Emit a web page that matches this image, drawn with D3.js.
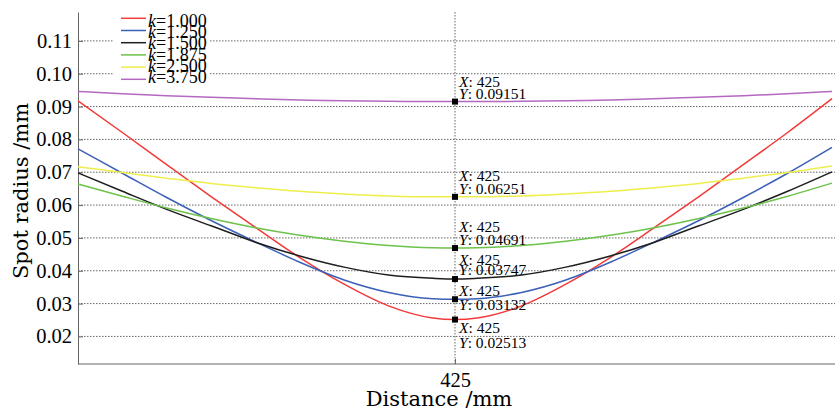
<!DOCTYPE html>
<html>
<head>
<meta charset="utf-8">
<script src="https://cdn.jsdelivr.net/npm/d3@7"></script>
<style>
  body { margin: 0; background: #fff; }
  svg { display: block; }
  .tick text { font-family: "Liberation Serif", serif; font-size: 20.5px; fill: #000; }
  .axis-title { font-family: "DejaVu Serif", serif; font-size: 21px; fill: #000; }
  .legend text { font-family: "Liberation Serif", serif; font-size: 18px; fill: #000; }
  .tip text { font-family: "Liberation Serif", serif; font-size: 15.5px; fill: #000; }
</style>
</head>
<body>
<div id="chart"></div>
<script>
// data
var distance = [0, 50, 100, 150, 200, 250, 300, 350, 400, 425, 450, 500, 550, 600, 650, 700, 750, 800, 850];
var kLabels = ["1.000", "1.250", "1.500", "1.875", "2.500", "3.750"];
var radiusK1000 = [0.0917, 0.0821, 0.0723, 0.0626, 0.0532, 0.0440, 0.0359, 0.0293, 0.0256, 0.02513, 0.0256, 0.0293, 0.0359, 0.0440, 0.0532, 0.0626, 0.0723, 0.0821, 0.0924];
var radiusK1250 = [0.0771, 0.0697, 0.0623, 0.0553, 0.0488, 0.0426, 0.0372, 0.0334, 0.0315, 0.03132, 0.0315, 0.0334, 0.0372, 0.0426, 0.0488, 0.0553, 0.0623, 0.0697, 0.0776];
var radiusK1500 = [0.0698, 0.0642, 0.0587, 0.0537, 0.0487, 0.0445, 0.0411, 0.0387, 0.0377, 0.03747, 0.0377, 0.0387, 0.0411, 0.0445, 0.0487, 0.0537, 0.0587, 0.0642, 0.0701];
var radiusK1875 = [0.0664, 0.0627, 0.0591, 0.0559, 0.0531, 0.0508, 0.0490, 0.0477, 0.0470, 0.04691, 0.0470, 0.0477, 0.0490, 0.0508, 0.0531, 0.0559, 0.0591, 0.0627, 0.0667];
var radiusK2500 = [0.0717, 0.0699, 0.0682, 0.0666, 0.0653, 0.0642, 0.0634, 0.0628, 0.0625, 0.06251, 0.0625, 0.0628, 0.0634, 0.0642, 0.0653, 0.0666, 0.0682, 0.0699, 0.0719];
var radiusK3750 = [0.0946, 0.0939, 0.0933, 0.0928, 0.0924, 0.0920, 0.0918, 0.0916, 0.09152, 0.09151, 0.09152, 0.0916, 0.0918, 0.0920, 0.0924, 0.0928, 0.0933, 0.0939, 0.0946];
var yTicks = [0.02, 0.03, 0.04, 0.05, 0.06, 0.07, 0.08, 0.09, 0.10, 0.11];
var xTicks = [425];
var tipDistance = 425;

var series = [radiusK1000, radiusK1250, radiusK1500, radiusK1875, radiusK2500, radiusK3750];
var colors = ["#f23a3a", "#3c5fb8", "#1e1e1e", "#6cc24a", "#eeee4c", "#b468c2"];
// baseline offsets of the "X" and "Y" lines of each data tip, relative to its marker
var tipOffsets = [[13, 28], [-3, 11], [-14, -4], [-16, -3], [-16, -3], [-15, -2.5]];

var W = 835, H = 411;
var plotLeft = 78, plotTop = 12, plotBottom = 364, plotRight = 835;

var svg = d3.select("#chart").append("svg")
    .attr("width", W)
    .attr("height", H);

var xScale = d3.scaleLinear().domain([0, 850]).range([plotLeft, 832]);
var yScale = d3.scaleLinear().domain([0.0116, 0.1188]).range([plotBottom, plotTop]);

// dotted grid
svg.append("g").selectAll("line")
    .data(yTicks)
    .enter().append("line")
    .attr("x1", plotLeft).attr("x2", plotRight)
    .attr("y1", function(d) { return yScale(d); })
    .attr("y2", function(d) { return yScale(d); })
    .attr("stroke", "#666")
    .attr("stroke-width", 1)
    .attr("stroke-dasharray", "1.5,1.5");

svg.append("g").selectAll("line")
    .data(xTicks)
    .enter().append("line")
    .attr("x1", function(d) { return xScale(d); })
    .attr("x2", function(d) { return xScale(d); })
    .attr("y1", plotTop).attr("y2", plotBottom)
    .attr("stroke", "#666")
    .attr("stroke-width", 1)
    .attr("stroke-dasharray", "1.5,1.5");

// axes
var yAxis = d3.axisLeft(yScale)
    .tickValues(yTicks)
    .tickFormat(d3.format(".2f"))
    .tickSizeInner(-5)
    .tickSizeOuter(0)
    .tickPadding(6);

var yAxis_g = svg.append("g")
    .attr("transform", "translate(" + plotLeft + ",0)")
    .call(yAxis);

var xAxis = d3.axisBottom(xScale)
    .tickValues(xTicks)
    .tickFormat(d3.format("d"))
    .tickSizeInner(-5)
    .tickSizeOuter(0);

var xAxis_g = svg.append("g")
    .attr("transform", "translate(0," + plotBottom + ")")
    .call(xAxis);
xAxis_g.select(".domain").remove();
xAxis_g.selectAll(".tick text").attr("y", 22.5).attr("dy", 0);

svg.append("line")
    .attr("x1", plotLeft).attr("x2", plotRight)
    .attr("y1", plotBottom).attr("y2", plotBottom)
    .attr("stroke", "#666");

svg.selectAll(".domain, .tick line").attr("stroke", "#666");

// curves
var line = d3.line()
    .x(function(d, i) { return xScale(distance[i]); })
    .y(function(d) { return yScale(d); })
    .curve(d3.curveMonotoneX);

svg.append("g").selectAll("path")
    .data(series)
    .enter().append("path")
    .attr("d", line)
    .attr("fill", "none")
    .attr("stroke", function(d, i) { return colors[i]; })
    .attr("stroke-width", 1.5);

// data tips at 425
var tipIndex = distance.indexOf(tipDistance);
var tips = svg.append("g").attr("class", "tip").selectAll("g")
    .data(series)
    .enter().append("g")
    .attr("transform", function(d) {
      return "translate(" + xScale(tipDistance) + "," + yScale(d[tipIndex]) + ")";
    });

tips.append("rect")
    .attr("x", -3).attr("y", -3)
    .attr("width", 6).attr("height", 6)
    .attr("fill", "#000");

var tx = tips.append("text")
    .attr("x", 4)
    .attr("y", function(d, i) { return tipOffsets[i][0]; });
tx.append("tspan").attr("font-style", "italic").text("X");
tx.append("tspan").text(": " + tipDistance);

var ty = tips.append("text")
    .attr("x", 4)
    .attr("y", function(d, i) { return tipOffsets[i][1]; });
ty.append("tspan").attr("font-style", "italic").text("Y");
ty.append("tspan").text(function(d) { return ": " + (+d[tipIndex]).toPrecision(4); });

// legend
var legend = svg.append("g").attr("class", "legend");
legend.append("rect")
    .attr("x", 113).attr("y", 9)
    .attr("width", 97).attr("height", 77)
    .attr("fill", "#fff");

var rows = legend.selectAll("g")
    .data(kLabels)
    .enter().append("g");

rows.append("line")
    .attr("x1", 121).attr("x2", 146)
    .attr("y1", function(d, i) { return 18.3 + i * 12.2; })
    .attr("y2", function(d, i) { return 18.3 + i * 12.2; })
    .attr("stroke", function(d, i) { return colors[i]; })
    .attr("stroke-width", 1.5);

var lt = rows.append("text")
    .attr("x", 148)
    .attr("y", function(d, i) { return 26.7 + i * 11.3; });
lt.append("tspan").attr("font-style", "italic").text("k");
lt.append("tspan").text(function(d) { return "=" + d; });

// axis titles
svg.append("text")
    .attr("class", "axis-title")
    .attr("x", 439).attr("y", 406)
    .attr("text-anchor", "middle")
    .text("Distance /mm");

svg.append("text")
    .attr("class", "axis-title")
    .attr("transform", "translate(28,191) rotate(-90)")
    .attr("text-anchor", "middle")
    .text("Spot radius /mm");
</script>
</body>
</html>
